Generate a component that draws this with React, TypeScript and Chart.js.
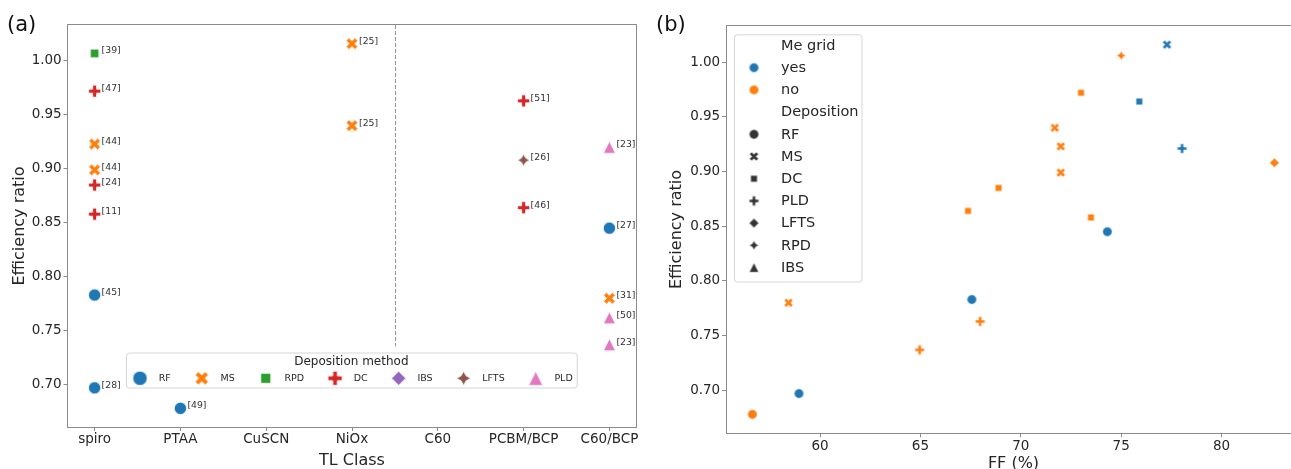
import React, { useEffect, useRef } from 'react';
import { Chart, registerables } from 'chart.js';

Chart.register(...registerables);

const FONT = "'DejaVu Sans', 'Liberation Sans', Arial, sans-serif";
const TEXT = '#262626';
const SPINE = '#8a8a8a';

// ---------------- Panel (a) data ----------------
const TL_CLASSES = ['spiro', 'PTAA', 'CuSCN', 'NiOx', 'C60', 'PCBM/BCP', 'C60/BCP'];
const METHODS_A = ['RF', 'MS', 'RPD', 'DC', 'IBS', 'LFTS', 'PLD'];
const METHOD_COLORS_A = ['#1f77b4', '#ff7f0e', '#2ca02c', '#d62728', '#9467bd', '#8c564b', '#e377c2'];
const METHOD_SHAPES_A = ['circle', 'x', 'square', 'plus', 'diamond', 'star', 'triangle'];

const A_TL = ['spiro', 'spiro', 'spiro', 'spiro', 'spiro', 'spiro', 'spiro', 'spiro', 'PTAA', 'NiOx', 'NiOx', 'PCBM/BCP', 'PCBM/BCP', 'PCBM/BCP', 'C60/BCP', 'C60/BCP', 'C60/BCP', 'C60/BCP', 'C60/BCP'];
const A_METHOD = ['RPD', 'DC', 'MS', 'MS', 'DC', 'DC', 'RF', 'RF', 'RF', 'MS', 'MS', 'DC', 'LFTS', 'DC', 'PLD', 'RF', 'MS', 'PLD', 'PLD'];
const A_RATIO = [1.007, 0.972, 0.923, 0.899, 0.885, 0.858, 0.783, 0.697, 0.678, 1.016, 0.940, 0.963, 0.908, 0.864, 0.920, 0.845, 0.780, 0.762, 0.737];
const A_REF = ['[39]', '[47]', '[44]', '[44]', '[24]', '[11]', '[45]', '[28]', '[49]', '[25]', '[25]', '[51]', '[26]', '[46]', '[23]', '[27]', '[31]', '[50]', '[23]'];
const A_LEGEND_TITLE = 'Deposition method';
const DIVIDER_X = 3.5;
const DIVIDER_YMIN_FRAC = 0.2;

const Y_TICKS = [0.70, 0.75, 0.80, 0.85, 0.90, 0.95, 1.00];
const Y_MIN = 0.6607;
const Y_MAX = 1.0333;

// ---------------- Panel (b) data ----------------
const B_FF = [77.28, 75.0, 73.0, 75.9, 71.69, 71.99, 78.03, 82.63, 71.99, 68.89, 67.37, 73.49, 74.31, 67.56, 58.43, 67.97, 64.96, 58.95, 56.63];
const B_RATIO = [1.016, 1.006, 0.972, 0.964, 0.940, 0.923, 0.921, 0.908, 0.899, 0.885, 0.864, 0.858, 0.845, 0.783, 0.780, 0.763, 0.737, 0.697, 0.678];
const B_GRID = ['yes', 'no', 'no', 'yes', 'no', 'no', 'yes', 'no', 'no', 'no', 'no', 'no', 'yes', 'yes', 'no', 'no', 'no', 'yes', 'no'];
const B_DEP = ['MS', 'RPD', 'DC', 'DC', 'MS', 'MS', 'PLD', 'LFTS', 'MS', 'DC', 'DC', 'DC', 'RF', 'RF', 'MS', 'PLD', 'PLD', 'RF', 'RF'];
const GRID_LEVELS = ['yes', 'no'];
const GRID_COLORS = ['#1f77b4', '#ff7f0e'];
const DEP_LEVELS_B = ['RF', 'MS', 'DC', 'PLD', 'LFTS', 'RPD', 'IBS'];
const DEP_SHAPES_B = ['circle', 'x', 'square', 'plus', 'diamond', 'star', 'triangle'];
const FF_TICKS = [60, 65, 70, 75, 80];
const FF_MIN = 55.34;
const FF_MAX = 83.93;

// ---------------- marker helpers ----------------
const PLUS_PTS = [[-1, -3], [1, -3], [1, -1], [3, -1], [3, 1], [1, 1], [1, 3], [-1, 3], [-1, 1], [-3, 1], [-3, -1], [-1, -1]];

function tracePath(ctx: CanvasRenderingContext2D, shape: string, r: number) {
  ctx.beginPath();
  if (shape === 'circle') {
    ctx.arc(0, 0, r, 0, Math.PI * 2);
  } else if (shape === 'square') {
    const h = r / Math.SQRT2;
    ctx.rect(-h, -h, 2 * h, 2 * h);
  } else if (shape === 'diamond') {
    ctx.moveTo(0, -r); ctx.lineTo(r, 0); ctx.lineTo(0, r); ctx.lineTo(-r, 0); ctx.closePath();
  } else if (shape === 'star') {
    for (let i = 0; i < 8; i++) {
      const a = -Math.PI / 2 + (i * Math.PI) / 4;
      const rr = i % 2 === 0 ? r : r * 0.5;
      const px = rr * Math.cos(a), py = rr * Math.sin(a);
      if (i === 0) ctx.moveTo(px, py); else ctx.lineTo(px, py);
    }
    ctx.closePath();
  } else if (shape === 'triangle') {
    ctx.moveTo(0, -r); ctx.lineTo(r, r); ctx.lineTo(-r, r); ctx.closePath();
  } else if (shape === 'plus' || shape === 'x') {
    const rot = shape === 'x' ? Math.PI / 4 : 0;
    const c = Math.cos(rot), s = Math.sin(rot);
    PLUS_PTS.forEach(([px, py], i) => {
      const x0 = (px / 3) * r, y0 = (py / 3) * r;
      const x1 = x0 * c - y0 * s, y1 = x0 * s + y0 * c;
      if (i === 0) ctx.moveTo(x1, y1); else ctx.lineTo(x1, y1);
    });
    ctx.closePath();
  }
}

function makeMarker(shape: string, color: string, D: number, edge: number, edgeColor = '#ffffff') {
  const S = Math.ceil(D + 2 * edge + 2);
  const c = document.createElement('canvas');
  c.width = S; c.height = S;
  const ctx = c.getContext('2d')!;
  ctx.translate(S / 2, S / 2);
  tracePath(ctx, shape, D / 2);
  ctx.fillStyle = color;
  ctx.fill();
  if (edge > 0) {
    ctx.lineWidth = edge;
    ctx.strokeStyle = edgeColor;
    ctx.stroke();
  }
  return c;
}

function drawImgCentered(ctx: CanvasRenderingContext2D, img: HTMLCanvasElement, x: number, y: number) {
  ctx.drawImage(img, x - img.width / 2, y - img.height / 2);
}

function roundRectPath(ctx: CanvasRenderingContext2D, x: number, y: number, w: number, h: number, r: number) {
  ctx.beginPath();
  ctx.moveTo(x + r, y);
  ctx.lineTo(x + w - r, y); ctx.arcTo(x + w, y, x + w, y + r, r);
  ctx.lineTo(x + w, y + h - r); ctx.arcTo(x + w, y + h, x + w - r, y + h, r);
  ctx.lineTo(x + r, y + h); ctx.arcTo(x, y + h, x, y + h - r, r);
  ctx.lineTo(x, y + r); ctx.arcTo(x, y, x + r, y, r);
  ctx.closePath();
}

function drawSpines(ctx: CanvasRenderingContext2D, ca: any) {
  ctx.save();
  ctx.strokeStyle = SPINE;
  ctx.lineWidth = 1;
  const l = Math.round(ca.left) - 0.5, t = Math.round(ca.top) - 0.5;
  const r = Math.round(ca.right) + 0.5, b = Math.round(ca.bottom) + 0.5;
  ctx.strokeRect(l, t, r - l, b - t);
  ctx.restore();
}

function drawLegendFrame(ctx: CanvasRenderingContext2D, x: number, y: number, w: number, h: number) {
  roundRectPath(ctx, x + 0.5, y + 0.5, w, h, 3);
  ctx.fillStyle = 'rgba(255,255,255,0.8)';
  ctx.fill();
  ctx.strokeStyle = '#d6d6d6';
  ctx.lineWidth = 1;
  ctx.stroke();
}

function yAxis(width: number, titlePad: number) {
  return {
    type: 'linear' as const,
    min: Y_MIN,
    max: Y_MAX,
    afterBuildTicks: (s: any) => { s.ticks = Y_TICKS.map((v) => ({ value: v })); },
    afterFit: (s: any) => { s.width = width; },
    ticks: {
      callback: (v: any) => Number(v).toFixed(2),
      font: { family: FONT, size: 13.5 },
      color: TEXT,
      padding: 1.8,
    },
    grid: { drawOnChartArea: false, drawTicks: true, tickLength: 4.5, tickColor: SPINE, tickWidth: 1 },
    border: { display: false },
    title: {
      display: true,
      text: 'Efficiency ratio',
      font: { family: FONT, size: 16 },
      color: TEXT,
      padding: { top: titlePad, bottom: 0 },
    },
  };
}

function panelLabel(ctx: CanvasRenderingContext2D, text: string, x: number) {
  ctx.save();
  ctx.font = `21px ${FONT}`;
  ctx.fillStyle = '#111';
  ctx.textAlign = 'left';
  ctx.textBaseline = 'alphabetic';
  ctx.fillText(text, x, 31);
  ctx.restore();
}

function configA(): any {
  const markers = METHOD_SHAPES_A.map((s, k) => makeMarker(s, METHOD_COLORS_A[k], 12.5, 1));
  const legendMarkers = METHOD_SHAPES_A.map((s, k) => makeMarker(s, METHOD_COLORS_A[k], 14.5, 1));
  const datasets = METHODS_A.map((m, k) => ({
    label: m,
    data: A_RATIO.map((v, i) => ({ x: TL_CLASSES.indexOf(A_TL[i]), y: v, ref: A_REF[i], method: A_METHOD[i] }))
      .filter((p) => p.method === m),
    pointStyle: markers[k],
    pointRadius: 6,
    pointHoverRadius: 6,
    backgroundColor: METHOD_COLORS_A[k],
    borderColor: METHOD_COLORS_A[k],
  }));

  const plugin = {
    id: 'panelA',
    beforeDatasetsDraw(chart: any) {
      const { ctx, chartArea: ca, scales } = chart;
      const px = Math.round(scales.x.getPixelForValue(DIVIDER_X)) + 0.5;
      const yEnd = ca.bottom - DIVIDER_YMIN_FRAC * (ca.bottom - ca.top);
      ctx.save();
      ctx.strokeStyle = 'rgba(128,128,128,0.8)';
      ctx.lineWidth = 1.1;
      ctx.setLineDash([4, 2]);
      ctx.beginPath();
      ctx.moveTo(px, ca.top);
      ctx.lineTo(px, yEnd);
      ctx.stroke();
      ctx.restore();
    },
    afterDatasetsDraw(chart: any) {
      const { ctx, chartArea: ca } = chart;
      // reference labels
      ctx.save();
      ctx.font = `9.3px ${FONT}`;
      ctx.fillStyle = '#333';
      ctx.textAlign = 'left';
      ctx.textBaseline = 'middle';
      chart.data.datasets.forEach((ds: any, di: number) => {
        const meta = chart.getDatasetMeta(di);
        meta.data.forEach((el: any, j: number) => {
          ctx.fillText(ds.data[j].ref, el.x + 7, el.y - 2.5);
        });
      });
      ctx.restore();

      drawSpines(ctx, ca);

      // legend
      ctx.save();
      const lx = 126, ly = 352.5, lh = 35;
      ctx.font = `9.5px ${FONT}`;
      const items: { mx: number; tx: number; w: number }[] = [];
      let x = lx + 14;
      METHODS_A.forEach((m) => {
        const w = ctx.measureText(m).width;
        items.push({ mx: x, tx: x + 18.7, w });
        x = x + 18.7 + w + 31;
      });
      const last = items[items.length - 1];
      const rightEdge = last.tx + last.w + 4;
      drawLegendFrame(ctx, lx, ly, rightEdge - lx, lh);
      ctx.fillStyle = TEXT;
      ctx.textBaseline = 'middle';
      ctx.textAlign = 'center';
      ctx.font = `12px ${FONT}`;
      ctx.fillText(A_LEGEND_TITLE, (lx + rightEdge) / 2, ly + 9);
      ctx.textAlign = 'left';
      ctx.font = `9.5px ${FONT}`;
      METHODS_A.forEach((m, k) => {
        drawImgCentered(ctx, legendMarkers[k], items[k].mx, ly + 25.8);
        ctx.fillStyle = TEXT;
        ctx.fillText(m, items[k].tx, ly + 26);
      });
      ctx.restore();
    },
    afterDraw(chart: any) {
      panelLabel(chart.ctx, '(a)', 7);
    },
  };

  return {
    type: 'scatter',
    data: { datasets },
    plugins: [plugin],
    options: {
      responsive: false,
      animation: false,
      devicePixelRatio: 1,
      events: [],
      layout: { padding: { left: 0, right: 14, top: 25, bottom: 0 } },
      plugins: { legend: { display: false }, tooltip: { enabled: false } },
      scales: {
        x: {
          type: 'linear',
          min: -0.31,
          max: 6.31,
          afterBuildTicks: (s: any) => { s.ticks = TL_CLASSES.map((_, i) => ({ value: i })); },
          afterFit: (s: any) => { s.height = 42; },
          ticks: {
            callback: (v: any) => TL_CLASSES[Math.round(Number(v))],
            font: { family: FONT, size: 13.5 },
            color: TEXT,
            padding: 0.4,
            maxRotation: 0,
            autoSkip: false,
          },
          grid: { drawOnChartArea: false, drawTicks: true, tickLength: 4, tickColor: SPINE, tickWidth: 1 },
          border: { display: false },
          title: {
            display: true,
            text: 'TL Class',
            font: { family: FONT, size: 16 },
            color: TEXT,
            padding: { top: 0, bottom: -1.8 },
          },
        },
        y: yAxis(68, 9.9),
      },
    },
  };
}

function configB(): any {
  const markers = GRID_COLORS.map((col) => DEP_SHAPES_B.map((s) => makeMarker(s, col, 9.5, 0.6)));
  const legendGrid = GRID_COLORS.map((col) => makeMarker('circle', col, 9.5, 0.6));
  const legendDep = DEP_SHAPES_B.map((s) => makeMarker(s, '#333333', 9.5, 0.6));
  const datasets = GRID_LEVELS.map((g, gi) => {
    const idx = B_FF.map((_, i) => i).filter((i) => B_GRID[i] === g);
    return {
      label: g,
      data: idx.map((i) => ({ x: B_FF[i], y: B_RATIO[i] })),
      pointStyle: idx.map((i) => markers[gi][DEP_LEVELS_B.indexOf(B_DEP[i])]),
      pointRadius: 4.5,
      pointHoverRadius: 4.5,
      backgroundColor: GRID_COLORS[gi],
      borderColor: GRID_COLORS[gi],
    };
  });

  const plugin = {
    id: 'panelB',
    afterDatasetsDraw(chart: any) {
      const { ctx, chartArea: ca } = chart;
      drawSpines(ctx, ca);
      // legend
      ctx.save();
      const lx = 84, ly = 34.3;
      const rowY0 = 45, rowStep = 22.2;
      const mx = 104, tx = 131;
      const rows: { t: string; m: HTMLCanvasElement | null }[] = [
        { t: 'Me grid', m: null },
        ...GRID_LEVELS.map((g, i) => ({ t: g, m: legendGrid[i] })),
        { t: 'Deposition', m: null },
        ...DEP_LEVELS_B.map((d, i) => ({ t: d, m: legendDep[i] })),
      ];
      ctx.font = `14.5px ${FONT}`;
      let maxW = 0;
      rows.forEach((r) => { maxW = Math.max(maxW, ctx.measureText(r.t).width); });
      const w = tx + maxW + 3 - lx;
      const h = rowY0 + rowStep * (rows.length - 1) + 14.5 - ly;
      drawLegendFrame(ctx, lx, ly, w, h);
      ctx.fillStyle = TEXT;
      ctx.textAlign = 'left';
      ctx.textBaseline = 'middle';
      rows.forEach((r, i) => {
        const y = rowY0 + i * rowStep;
        if (r.m) drawImgCentered(ctx, r.m, mx, y + 0.5);
        ctx.fillStyle = TEXT;
        ctx.fillText(r.t, tx, y + 1);
      });
      ctx.restore();
    },
    afterDraw(chart: any) {
      panelLabel(chart.ctx, '(b)', 6);
    },
  };

  return {
    type: 'scatter',
    data: { datasets },
    plugins: [plugin],
    options: {
      responsive: false,
      animation: false,
      devicePixelRatio: 1,
      events: [],
      layout: { padding: { left: 0, right: 9.5, top: 25.7, bottom: 0 } },
      plugins: { legend: { display: false }, tooltip: { enabled: false } },
      scales: {
        x: {
          type: 'linear',
          min: FF_MIN,
          max: FF_MAX,
          afterBuildTicks: (s: any) => { s.ticks = FF_TICKS.map((v) => ({ value: v })); },
          afterFit: (s: any) => { s.height = 35.7; },
          ticks: {
            callback: (v: any) => String(v),
            font: { family: FONT, size: 13.5 },
            color: TEXT,
            padding: 0.8,
            maxRotation: 0,
            autoSkip: false,
          },
          grid: { drawOnChartArea: false, drawTicks: true, tickLength: 4, tickColor: SPINE, tickWidth: 1 },
          border: { display: false },
          title: {
            display: true,
            text: 'FF (%)',
            font: { family: FONT, size: 16 },
            color: TEXT,
            padding: { top: 0, bottom: -4 },
          },
        },
        y: yAxis(76.5, 17),
      },
    },
  };
}

export default function App() {
  const refA = useRef<HTMLCanvasElement>(null);
  const refB = useRef<HTMLCanvasElement>(null);

  useEffect(() => {
    const chartA = new Chart(refA.current as HTMLCanvasElement, configA());
    const chartB = new Chart(refB.current as HTMLCanvasElement, configB());
    return () => {
      chartA.destroy();
      chartB.destroy();
    };
  }, []);

  return (
    <div style={{ position: 'absolute', left: 0, top: 0, width: 1291, height: 469, overflow: 'hidden', background: '#ffffff' }}>
      <canvas ref={refA} width={650} height={469} style={{ position: 'absolute', left: 0, top: 0, width: 650, height: 469 }} />
      <canvas ref={refB} width={660} height={469} style={{ position: 'absolute', left: 650, top: 0, width: 660, height: 469 }} />
    </div>
  );
}
